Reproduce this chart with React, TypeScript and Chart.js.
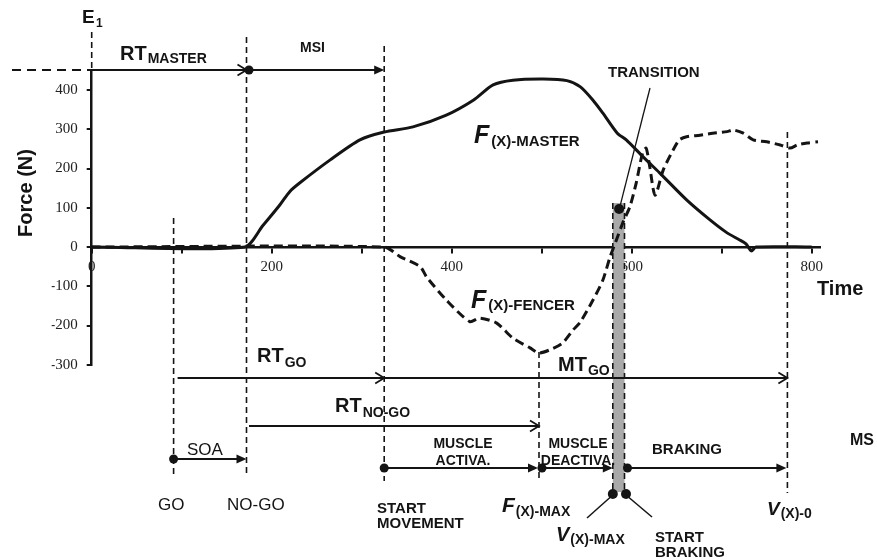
import React, { useEffect, useRef } from 'react';
import { Chart, registerables } from 'chart.js';

Chart.register(...registerables);

// ---------- data ----------
const masterTime = [0, 170, 190, 209, 220, 231, 265, 298, 325, 357, 394, 424, 446, 468, 502, 528, 543, 557, 568, 584, 594, 613, 631, 661, 687, 706, 720, 727, 733, 738, 800];
const masterForce = [0, 0, 54, 107, 141, 163, 222, 273, 293, 306, 336, 374, 413, 425, 428, 424, 408, 374, 341, 290, 273, 229, 189, 120, 69, 36, 18, 8, -10, 0, 0];

const fencerTime = [0, 325, 343, 365, 372, 394, 420, 431, 450, 468, 487, 497, 509, 523, 535, 543, 557, 568, 576, 583, 590, 598, 605, 612, 616, 620, 626, 635, 646, 653, 661, 676, 690, 706, 713, 724, 735, 750, 765, 776, 784, 795, 807];
const fencerForce = [0, 0, -25, -50, -76, -135, -190, -181, -194, -232, -257, -270, -262, -245, -211, -191, -135, -84, -25, 18, 61, 103, 163, 239, 252, 205, 132, 196, 247, 273, 281, 285, 290, 294, 298, 290, 273, 268, 260, 252, 260, 265, 268];

const xTickValues = [0, 100, 200, 300, 400, 500, 600, 700, 800];
const xTickLabels = ['0', '', '200', '', '400', '', '600', '', '800'];
const yTickValues = [-300, -200, -100, 0, 100, 200, 300, 400];

// event times (ms)
const tGo = 91;
const tNoGo = 172;
const tStartMovement = 325;
const tFMax = 497;
const tVMax = 579;
const tStartBraking = 592;
const tV0 = 773;
const transitionTime = 586;
const transitionForce = 97;

const X_MIN = 0;
const X_MAX = 809;
const Y_MIN = -300;
const Y_MAX = 451;

// ---------- drawing helpers ----------
const INK = '#141414';
const SANS = '"Liberation Sans", Arial, sans-serif';
const bold = (n: number) => `bold ${n}px ${SANS}`;
const italicBold = (n: number) => `italic bold ${n}px ${SANS}`;
const regular = (n: number) => `${n}px ${SANS}`;

function vDash(ctx: CanvasRenderingContext2D, px: number, y1: number, y2: number) {
  ctx.save();
  ctx.strokeStyle = INK;
  ctx.lineWidth = 1.6;
  ctx.setLineDash([6, 4]);
  ctx.beginPath();
  ctx.moveTo(px, y1);
  ctx.lineTo(px, y2);
  ctx.stroke();
  ctx.restore();
}

function hLine(ctx: CanvasRenderingContext2D, xa: number, xb: number, yy: number, lw = 2, dash: number[] = []) {
  ctx.save();
  ctx.strokeStyle = INK;
  ctx.lineWidth = lw;
  ctx.setLineDash(dash);
  ctx.beginPath();
  ctx.moveTo(xa, yy);
  ctx.lineTo(xb, yy);
  ctx.stroke();
  ctx.restore();
}

function seg(ctx: CanvasRenderingContext2D, x1: number, y1: number, x2: number, y2: number, lw = 1.5) {
  ctx.save();
  ctx.strokeStyle = INK;
  ctx.lineWidth = lw;
  ctx.beginPath();
  ctx.moveTo(x1, y1);
  ctx.lineTo(x2, y2);
  ctx.stroke();
  ctx.restore();
}

function openHead(ctx: CanvasRenderingContext2D, tip: number, yy: number) {
  ctx.save();
  ctx.strokeStyle = INK;
  ctx.lineWidth = 1.8;
  ctx.beginPath();
  ctx.moveTo(tip - 9, yy - 5.5);
  ctx.lineTo(tip, yy);
  ctx.lineTo(tip - 9, yy + 5.5);
  ctx.stroke();
  ctx.restore();
}

function filledHead(ctx: CanvasRenderingContext2D, tip: number, yy: number) {
  ctx.save();
  ctx.fillStyle = INK;
  ctx.beginPath();
  ctx.moveTo(tip, yy);
  ctx.lineTo(tip - 10, yy - 4.5);
  ctx.lineTo(tip - 10, yy + 4.5);
  ctx.closePath();
  ctx.fill();
  ctx.restore();
}

function dot(ctx: CanvasRenderingContext2D, px: number, py: number, r = 4.5) {
  ctx.save();
  ctx.fillStyle = INK;
  ctx.beginPath();
  ctx.arc(px, py, r, 0, Math.PI * 2);
  ctx.fill();
  ctx.restore();
}

function text(ctx: CanvasRenderingContext2D, s: string, px: number, py: number, font: string, align: CanvasTextAlign = 'left') {
  ctx.save();
  ctx.fillStyle = INK;
  ctx.font = font;
  ctx.textAlign = align;
  ctx.textBaseline = 'alphabetic';
  ctx.fillText(s, px, py);
  ctx.restore();
}

function subLabel(ctx: CanvasRenderingContext2D, main: string, sub: string, px: number, py: number, mainFont: string, subFont: string, drop: number, gap = 1) {
  ctx.save();
  ctx.font = mainFont;
  const w = ctx.measureText(main).width;
  ctx.restore();
  text(ctx, main, px, py, mainFont);
  text(ctx, sub, px + w + gap, py + drop, subFont);
}

const annotationPlugin = {
  id: 'diagramAnnotations',
  beforeDatasetsDraw(chart: any) {
    const { ctx, scales } = chart;
    const xs = scales.x;
    const ys = scales.y;
    const a = xs.getPixelForValue(tVMax);
    const b = xs.getPixelForValue(tStartBraking);
    const top = ys.getPixelForValue(112);
    ctx.save();
    ctx.fillStyle = '#a9a9a9';
    ctx.fillRect(a, top, b - a, 492 - top);
    ctx.restore();
  },
  afterDraw(chart: any) {
    const { ctx, scales, chartArea } = chart;
    const xs = scales.x;
    const ys = scales.y;
    const X = (v: number) => xs.getPixelForValue(v);
    const top = chartArea.top;

    // vertical dashed markers
    vDash(ctx, X(0), 32, top);
    vDash(ctx, X(tGo), 218, 477);
    vDash(ctx, X(tNoGo), 37, 477);
    vDash(ctx, X(tStartMovement), 46, 481);
    vDash(ctx, X(tFMax), 352, 481);
    vDash(ctx, X(tVMax), ys.getPixelForValue(112), 492);
    vDash(ctx, X(tStartBraking), ys.getPixelForValue(112), 492);
    vDash(ctx, X(tV0), 132, 493);

    // top row: RT master and MSI
    hLine(ctx, 12, X(0), top, 2, [9, 6]);
    hLine(ctx, X(0), X(tNoGo), top, 2);
    openHead(ctx, X(tNoGo), top);
    dot(ctx, X(tNoGo) + 2.5, top, 4.5);
    hLine(ctx, X(tNoGo), X(tStartMovement) - 4, top, 2);
    filledHead(ctx, X(tStartMovement), top);

    text(ctx, 'E', 82, 23, bold(19));
    text(ctx, '1', 96, 27, bold(12));
    subLabel(ctx, 'RT', 'MASTER', 120, 60, bold(20), bold(14), 3);
    text(ctx, 'MSI', 300, 52, bold(14));

    // transition
    text(ctx, 'TRANSITION', 608, 77, bold(15));
    seg(ctx, 650, 88, X(transitionTime) + 1, ys.getPixelForValue(transitionForce) - 3, 1.3);
    dot(ctx, X(transitionTime), ys.getPixelForValue(transitionForce), 5);

    // curve labels
    subLabel(ctx, 'F', '(X)-MASTER', 474, 143, italicBold(25), bold(15), 3, 2);
    subLabel(ctx, 'F', '(X)-FENCER', 471, 308, italicBold(25), bold(15), 2, 2);

    // RT GO / MT GO
    const rowGo = 378;
    hLine(ctx, X(tGo) + 4, X(tV0), rowGo, 2);
    openHead(ctx, X(tStartMovement), rowGo);
    openHead(ctx, X(tV0), rowGo);
    subLabel(ctx, 'RT', 'GO', 257, 362, bold(20), bold(14), 5);
    subLabel(ctx, 'MT', 'GO', 558, 371, bold(20), bold(14), 4);

    // RT NO-GO
    const rowNoGo = 426;
    hLine(ctx, X(tNoGo) + 2.5, X(tFMax), rowNoGo, 2);
    openHead(ctx, X(tFMax), rowNoGo);
    subLabel(ctx, 'RT', 'NO-GO', 335, 412, bold(20), bold(14), 5);

    // SOA row
    const rowSoa = 459;
    dot(ctx, X(tGo), rowSoa, 4.5);
    hLine(ctx, X(tGo), X(tNoGo) - 4, rowSoa, 2);
    filledHead(ctx, X(tNoGo), rowSoa);
    text(ctx, 'SOA', 187, 455, regular(17));

    // movement phases row
    const rowMs = 468;
    dot(ctx, X(tStartMovement), rowMs, 4.5);
    hLine(ctx, X(tStartMovement), X(tFMax) - 4, rowMs, 2);
    filledHead(ctx, X(tFMax) - 1, rowMs);
    dot(ctx, X(tFMax) + 3, rowMs, 4.5);
    hLine(ctx, X(tFMax) + 3, X(tVMax) - 4, rowMs, 2);
    filledHead(ctx, X(tVMax), rowMs);
    dot(ctx, X(tStartBraking) + 3, rowMs, 4.5);
    hLine(ctx, X(tStartBraking) + 3, X(tV0) - 4, rowMs, 2);
    filledHead(ctx, X(tV0) - 1, rowMs);

    text(ctx, 'MUSCLE', 463, 448, bold(14), 'center');
    text(ctx, 'ACTIVA.', 463, 465, bold(14), 'center');
    text(ctx, 'MUSCLE', 578, 448, bold(14), 'center');
    text(ctx, 'DEACTIVA.', 578, 465, bold(14), 'center');
    text(ctx, 'BRAKING', 652, 454, bold(15));
    text(ctx, 'MS', 850, 445, bold(16));

    // bottom markers
    dot(ctx, X(tVMax), 494, 5);
    dot(ctx, X(tStartBraking) + 1.5, 494, 5);
    seg(ctx, X(tVMax), 495, 587, 518, 1.5);
    seg(ctx, X(tStartBraking) + 1.5, 495, 652, 517, 1.5);

    // bottom labels
    text(ctx, 'GO', 158, 510, regular(17));
    text(ctx, 'NO-GO', 227, 510, regular(17));
    text(ctx, 'START', 377, 513, bold(15));
    text(ctx, 'MOVEMENT', 377, 528, bold(15));
    subLabel(ctx, 'F', '(X)-MAX', 502, 512, italicBold(21), bold(14), 4, 1);
    subLabel(ctx, 'V', '(X)-MAX', 556, 541, italicBold(20), bold(14), 3, 1);
    text(ctx, 'START', 655, 542, bold(15));
    text(ctx, 'BRAKING', 655, 557, bold(15));
    subLabel(ctx, 'V', '(X)-0', 767, 515, italicBold(19), bold(14), 3, 1);

    // axis titles
    ctx.save();
    ctx.translate(26, 193);
    ctx.rotate(-Math.PI / 2);
    ctx.fillStyle = INK;
    ctx.font = bold(20);
    ctx.textAlign = 'center';
    ctx.textBaseline = 'middle';
    ctx.fillText('Force (N)', 0, 0);
    ctx.restore();
    text(ctx, 'Time', 817, 295, bold(20));
  },
};

export default function App() {
  const ref = useRef<HTMLCanvasElement>(null);

  useEffect(() => {
    if (!ref.current) return;
    const chart = new Chart(ref.current, {
      type: 'line',
      data: {
        datasets: [
          {
            label: 'F(X)-MASTER',
            data: masterTime.map((t, i) => ({ x: t, y: masterForce[i] })),
            borderColor: INK,
            borderWidth: 3,
            pointRadius: 0,
            tension: 0.25,
            fill: false,
          },
          {
            label: 'F(X)-FENCER',
            data: fencerTime.map((t, i) => ({ x: t, y: fencerForce[i] })),
            borderColor: INK,
            borderWidth: 3,
            borderDash: [9, 5],
            pointRadius: 0,
            tension: 0.25,
            fill: false,
          },
        ],
      },
      options: {
        responsive: false,
        maintainAspectRatio: false,
        animation: false,
        events: [],
        layout: { padding: { left: 51.7, right: 57.2, top: 70, bottom: 195.25 } },
        plugins: { legend: { display: false }, tooltip: { enabled: false } },
        scales: {
          x: {
            type: 'linear',
            min: X_MIN,
            max: X_MAX,
            position: { y: 0 } as any,
            afterBuildTicks: (s: any) => {
              s.ticks = xTickValues.map((v) => ({ value: v }));
            },
            ticks: {
              autoSkip: false,
              maxRotation: 0,
              padding: 6,
              color: '#222',
              font: { family: '"Liberation Serif", "Times New Roman", serif', size: 15 },
              callback: (v: any) => xTickLabels[xTickValues.indexOf(Number(v))] ?? '',
            },
            grid: { display: true, drawOnChartArea: false, drawTicks: true, tickLength: 5, color: INK, lineWidth: 2 },
            border: { display: true, color: INK, width: 2.5 },
          },
          y: {
            type: 'linear',
            min: Y_MIN,
            max: Y_MAX,
            position: 'left',
            afterFit: (s: any) => {
              s.width = 40;
            },
            afterBuildTicks: (s: any) => {
              s.ticks = yTickValues.map((v) => ({ value: v }));
            },
            ticks: {
              padding: 9,
              color: '#222',
              font: { family: '"Liberation Serif", "Times New Roman", serif', size: 15 },
            },
            grid: { display: true, drawOnChartArea: false, drawTicks: true, tickLength: 5, color: INK, lineWidth: 2 },
            border: { display: true, color: INK, width: 2.5 },
          },
        },
      },
      plugins: [annotationPlugin],
    });
    return () => chart.destroy();
  }, []);

  return (
    <div style={{ position: 'fixed', left: 0, top: 0, width: 877, height: 560, background: '#fff' }}>
      <canvas ref={ref} width={877} height={560} style={{ display: 'block', width: 877, height: 560 }} />
    </div>
  );
}
